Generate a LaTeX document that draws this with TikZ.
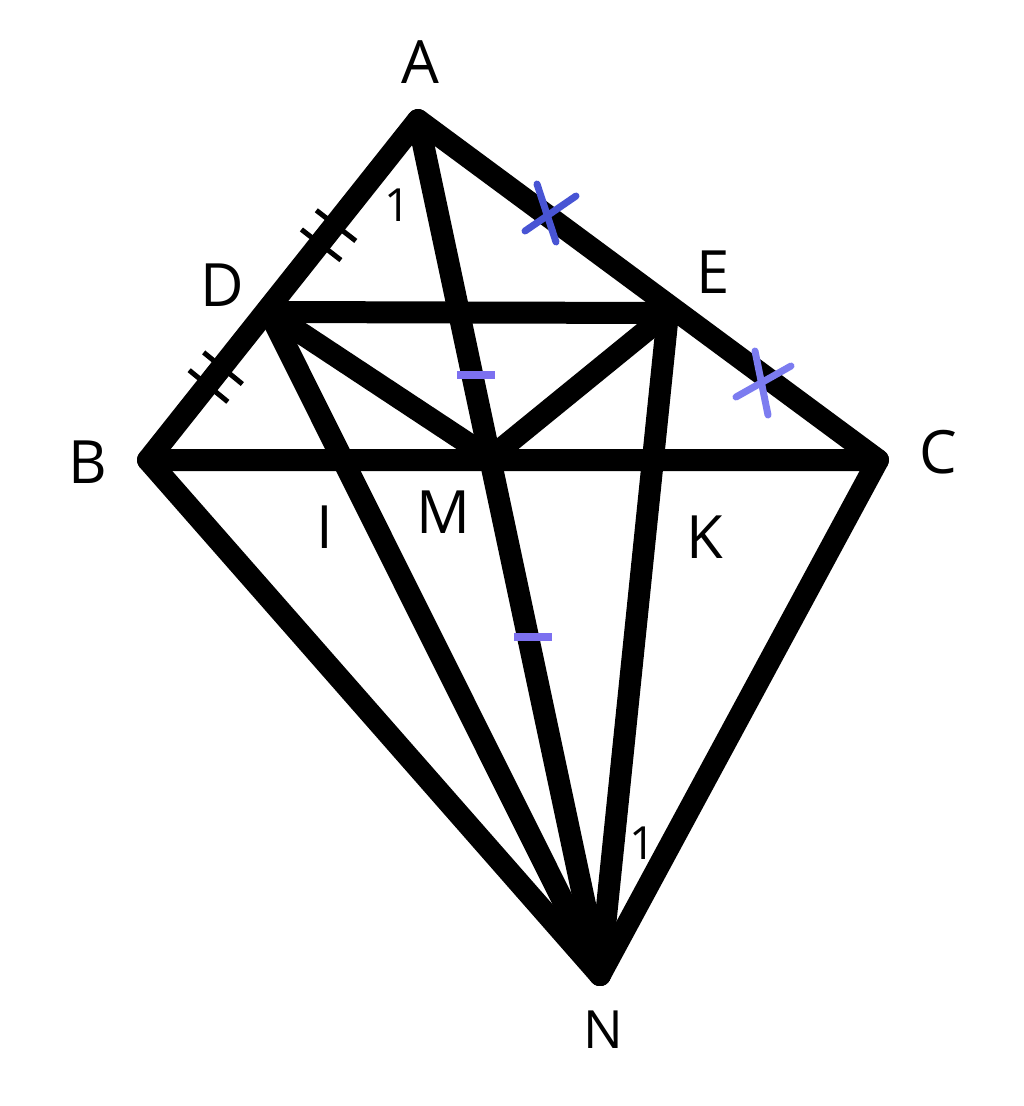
\documentclass[tikz,border=0pt]{standalone}
\usepackage{fontspec}
\setmainfont{Open Sans}
\usetikzlibrary{calc}
\definecolor{xblue}{RGB}{72,84,212}
\definecolor{xlight}{RGB}{124,124,240}
\definecolor{tickblue}{RGB}{124,112,240}
\tikzset{
  seg/.style={line width=0.44cm, line cap=round, line join=round},
  dtick/.style={line width=0.1cm},
  xstroke/.style={line width=0.14cm, line cap=round},
  lbl/.style={font=\fontsize{34}{40}\selectfont, inner sep=0pt},
  num/.style={font=\fontsize{26}{30}\selectfont, inner sep=0pt}
}
\begin{document}
\begin{tikzpicture}[x=0.02cm, y=-0.02cm]
\useasboundingbox (0,0) rectangle (1024,1106);

\coordinate (A) at (418,120);
\coordinate (B) at (148,460);
\coordinate (C) at (878,460);
\coordinate (D) at (269,312);
\coordinate (E) at (668,313);
\coordinate (M) at (490,458);
\coordinate (N) at (600,975);

% triangle and inner segments
\draw[seg] (A) -- (B) -- (C) -- cycle;
\draw[seg] (D) -- (E);
\draw[seg] (D) -- (M) -- (E);
\draw[seg] (A) -- (N);
\draw[seg] (B) -- (N) -- (C);
\draw[seg] (D) -- (N);
\draw[seg] (E) -- (N);

% equal marks on AD and DB
\foreach \t in {0.55,0.65}
  \draw[dtick] ($($(A)!\t!(D)$)!0.5cm!90:(D)$) -- ($($(A)!\t!(D)$)!0.5cm!-90:(D)$);
\foreach \t in {0.38,0.5}
  \draw[dtick] ($($(D)!\t!(B)$)!0.5cm!90:(B)$) -- ($($(D)!\t!(B)$)!0.5cm!-90:(B)$);

% crosses on AE and EC
\draw[xstroke, xblue] (548,212) +(-11,-28) -- +(8,30);
\draw[xstroke, xblue] (548,212) +(-23,19) -- +(28,-16);
\draw[xstroke, xlight] (763,383) +(-8,-32) -- +(5,32);
\draw[xstroke, xlight] (763,383) +(-27,14) -- +(28,-17);

% ticks on AM and MN
\draw[line width=0.16cm, tickblue] (457,375) -- (495,375);
\draw[line width=0.16cm, tickblue] (514,637) -- (552,637);

\node[lbl] (lA) at (420,62) {A};
\node[lbl] (lB) at (88,462) {B};
\node[lbl] (lC) at (938,452) {C};
\node[lbl] (lD) at (222,285) {D};
\node[lbl] (lE) at (713,272) {E};
\node[lbl] (lI) at (325,527) {I};
\node[lbl] (lM) at (443,512) {M};
\node[lbl] (lK) at (705,537) {K};
\node[lbl, font=\fontsize{30}{36}\selectfont] (lN) at (603,1030) {N};
\node[num] (one1) at (398,205) {1};
\node[num] (one2) at (643,843) {1};
\end{tikzpicture}
\end{document}
